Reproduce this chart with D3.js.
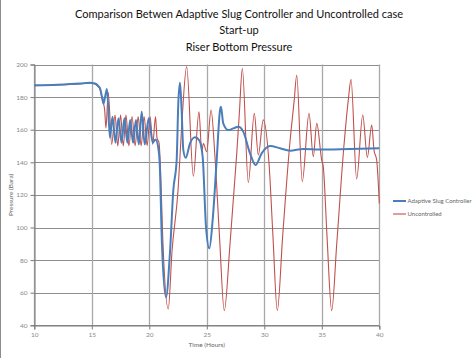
<!DOCTYPE html>
<html><head><meta charset="utf-8">
<script src="https://cdn.jsdelivr.net/npm/d3@7/dist/d3.min.js"></script>
<style>html,body{margin:0;padding:0;background:#fff;}svg{display:block;}</style>
</head><body><svg id="c" width="476" height="358"></svg>
<script>
const titleLines = ["Comparison Betwen Adaptive Slug Controller and Uncontrolled case","Start-up","Riser Bottom Pressure"];
const xTicks = [10,15,20,25,30,35,40];
const yTicks = [40,60,80,100,120,140,160,180,200];
const seriesNames = ["Adaptive Slug Controller","Uncontrolled"];

const blueT = [10,11.97,13.97,14.84,15.28,15.54,15.71,15.89,16.02,16.15,16.32,16.58,16.8,17.06,17.32,17.58,17.84,18.09,18.34,18.59,18.84,19.09,19.34,19.6,19.95,20.3,20.55,20.8,20.9,21.1,21.45,21.8,22.09,22.38,22.52,22.67,22.81,22.96,23.17,23.54,23.97,24.35,24.64,24.93,25.22,25.51,25.86,26.15,26.23,26.43,26.87,27.3,27.74,28.17,28.76,29.25,29.77,30.5,31.37,32.23,33.39,34.84,37.45,40];
const blueP = [187.3,187.6,188.3,188.8,188.3,187,185.5,180,176,180,185,155,168,152,167,152,167,152,166,152,166,151,171,151,167,152,154,148,140,90,57.2,85,123,141.4,176,188.8,172,147.5,142.8,151.6,155.3,153.5,143.4,100.5,87.2,104.6,141.4,172,174.1,163.9,159.8,160.8,161.8,158.8,145.5,138.3,145.5,150,148.6,147.1,148.2,147.8,148.2,148.6];

const redT = [10,11.97,13.97,14.84,15.28,15.54,15.71,15.89,16.02,16.12,16.23,16.43,16.73,17.02,17.26,17.5,17.74,17.97,18.23,18.5,18.77,19.03,19.29,19.55,19.81,20.07,20.3,20.54,20.67,20.85,20.95,21.19,21.65,21.97,22.5,22.84,23.25,23.83,24.32,24.56,24.7,24.99,25.37,25.71,26.1,26.52,27.02,27.6,27.83,28.09,28.61,29.13,29.48,29.91,30.43,30.75,31.13,31.6,32.2,32.6,32.82,33.3,33.89,34.26,34.56,34.99,35.13,35.45,35.86,36.3,36.9,37.3,37.54,38.03,38.56,38.96,39.34,39.54,39.77,40];
const redP = [187,187.4,188.1,188.6,188,186.5,185,179,176,172,161,183,151,169,150,169,150,169,150,168,150,168,150,168,150,168,151,168,155,152,140,90,50,85,123,165,198.7,131.5,171,146.5,151.5,146.5,172,143.4,95,49,90,145,170,197.6,127.5,170,144.5,166,137.3,95,49,95,150,178,193.6,128.1,170,143.4,163.9,141.4,137.3,95,49,90,148,178,190.9,129.8,169,143,162.9,147.5,141.4,114.8];

const svg = d3.select("#c");
const font = "Lato, 'DejaVu Sans', sans-serif";
const L = 34.3, R = 379.3, T = 64.5, B = 325.3;
const x = d3.scaleLinear().domain([10,40]).range([L,R]);
const y = d3.scaleLinear().domain([40,200]).range([B,T]);

svg.append("line").attr("x1",0.5).attr("x2",0.5).attr("y1",0).attr("y2",358).attr("stroke","#8c8c8c");

// title
svg.selectAll("text.title").data(titleLines).enter().append("text")
  .attr("x",239).attr("y",(d,i)=>[18,34,51][i]).attr("text-anchor","middle")
  .attr("font-family",font).attr("font-size",11).attr("fill","#111").text(d=>d);

// gridlines
svg.append("g").selectAll("line").data(yTicks).enter().append("line")
  .attr("x1",L).attr("x2",R).attr("y1",d=>Math.round(y(d))+0.5).attr("y2",d=>Math.round(y(d))+0.5)
  .attr("stroke","#8e8e8e").attr("stroke-width",1);
svg.append("g").selectAll("line").data(xTicks).enter().append("line")
  .attr("y1",T).attr("y2",B).attr("x1",d=>Math.round(x(d))+0.5).attr("x2",d=>Math.round(x(d))+0.5)
  .attr("stroke","#a8a8a8").attr("stroke-width",1.3);

// axes
const yAxis = svg.append("g").attr("transform",`translate(${Math.round(L)+0.5},0)`)
  .call(d3.axisLeft(y).tickValues(yTicks).tickSize(4).tickPadding(3).tickFormat(d3.format("d")));
const xAxis = svg.append("g").attr("transform",`translate(0,${Math.round(B)+0.5})`)
  .call(d3.axisBottom(x).tickValues(xTicks).tickSize(4).tickPadding(3).tickFormat(d3.format("d")));
[yAxis,xAxis].forEach(a=>{
  a.select(".domain").attr("stroke","#7a7a7a");
  a.selectAll(".tick line").attr("stroke","#7a7a7a");
  a.selectAll("text").attr("font-family",font).attr("font-size",6.5).attr("fill","#888");
});

// lines
const blue = blueT.map((t,i)=>[t,blueP[i]]);
const red = redT.map((t,i)=>[t,redP[i]]);
const line = d3.line().x(d=>x(d[0])).y(d=>y(d[1])).curve(d3.curveMonotoneX);
svg.append("path").datum(red).attr("d",line).attr("fill","none").attr("stroke","#c0504d").attr("stroke-width",1.1);
svg.append("path").datum(blue).attr("d",line).attr("fill","none").attr("stroke","#4a7ebb").attr("stroke-width",2);

// axis titles
svg.append("text").attr("transform",`translate(13,${(T+B)/2}) rotate(-90)`).attr("text-anchor","middle")
  .attr("font-family",font).attr("font-size",6.5).attr("fill","#666").text("Pressure (Bara)");
svg.append("text").attr("x",(L+R)/2).attr("y",347).attr("text-anchor","middle")
  .attr("font-family",font).attr("font-size",6.5).attr("fill","#666").text("Time (Hours)");

// legend
const colors = ["#4a7ebb","#c0504d"], widths=[2,1.1];
const lg = svg.append("g");
seriesNames.forEach((n,i)=>{
  const yy = 201 + i*13;
  lg.append("line").attr("x1",393).attr("x2",406).attr("y1",yy).attr("y2",yy).attr("stroke",colors[i]).attr("stroke-width",widths[i]);
  lg.append("text").attr("x",407.5).attr("y",yy+2.2).attr("font-family",font).attr("font-size",6).attr("fill","#666").text(n);
});
</script></body></html>
